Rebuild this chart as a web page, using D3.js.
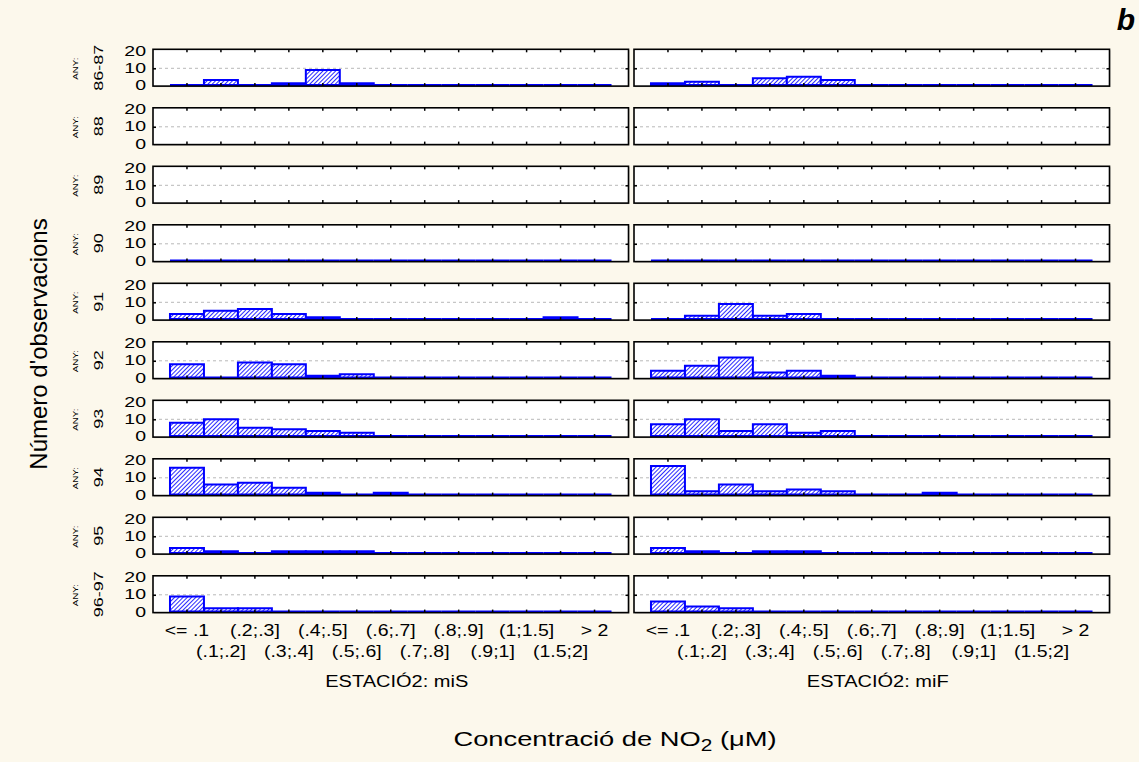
<!DOCTYPE html>
<html>
<head>
<meta charset="utf-8">
<script src="https://cdn.jsdelivr.net/npm/d3@7"></script>
<style>
  html, body { margin: 0; padding: 0; background: #fcf8ec; }
  svg { display: block; font-family: "Liberation Sans", Arial, sans-serif; }
</style>
</head>
<body>
<div id="chart"></div>
<script>
// histogram bins (NO2 concentration classes)
const bins = ['<= .1', '(.1;.2]', '(.2;.3]', '(.3;.4]', '(.4;.5]', '(.5;.6]', '(.6;.7]',
  '(.7;.8]', '(.8;.9]', '(.9;1]', '(1;1.5]', '(1.5;2]', '> 2'];

const years = ['86-87', '88', '89', '90', '91', '92', '93', '94', '95', '96-97'];
const stations = ['miS', 'miF'];
const yTicks = [0, 10, 20];

// counts per year (null = no samples that year)
const countsMiS = [
  [0, 3, 0, 1, 9, 1, 0, 0, 0, 0, 0, 0, 0],
  null,
  null,
  [0, 0, 0, 0, 0, 0, 0, 0, 0, 0, 0, 0, 0],
  [3, 5, 6, 3, 1, 0, 0, 0, 0, 0, 0, 1, 0],
  [8, 0, 9, 8, 1, 2, 0, 0, 0, 0, 0, 0, 0],
  [8, 10, 5, 4, 3, 2, 0, 0, 0, 0, 0, 0, 0],
  [16, 6, 7, 4, 1, 0, 1, 0, 0, 0, 0, 0, 0],
  [3, 1, 0, 1, 1, 1, 0, 0, 0, 0, 0, 0, 0],
  [9, 2, 2, 0, 0, 0, 0, 0, 0, 0, 0, 0, 0],
];

const countsMiF = [
  [1, 2, 0, 4, 5, 3, 0, 0, 0, 0, 0, 0, 0],
  null,
  null,
  [0, 0, 0, 0, 0, 0, 0, 0, 0, 0, 0, 0, 0],
  [0, 2, 9, 2, 3, 0, 0, 0, 0, 0, 0, 0, 0],
  [4, 7, 12, 3, 4, 1, 0, 0, 0, 0, 0, 0, 0],
  [7, 10, 3, 7, 2, 3, 0, 0, 0, 0, 0, 0, 0],
  [17, 2, 6, 2, 3, 2, 0, 0, 1, 0, 0, 0, 0],
  [3, 1, 0, 1, 1, 0, 0, 0, 0, 0, 0, 0, 0],
  [6, 3, 2, 0, 0, 0, 0, 0, 0, 0, 0, 0, 0],
];

const counts = [countsMiS, countsMiF];

const width = 1139;
const height = 762;
const panelW = 475.5;
const rowH = 36.8;
const colLeft = [153, 634];

const svg = d3.select('#chart')
  .append('svg')
  .attr('width', width)
  .attr('height', height);

svg.append('rect').attr('width', width).attr('height', height).attr('fill', '#fcf8ec');

const pat = svg.append('defs').append('pattern')
  .attr('id', 'hatch')
  .attr('width', 3).attr('height', 3)
  .attr('patternUnits', 'userSpaceOnUse')
  .attr('patternTransform', 'rotate(45)');
pat.append('rect').attr('width', 3).attr('height', 3).attr('fill', '#ffffff');
pat.append('line').attr('x1', 0.5).attr('y1', 0).attr('x2', 0.5).attr('y2', 3)
  .attr('stroke', '#2a2aff').attr('stroke-width', 1);

const rowTop = d3.scaleLinear().domain([0, years.length - 1]).range([49.3, 49.3 + 9 * 58.5]);

const x = d3.scaleBand().domain(bins).range([0, panelW]).paddingInner(0).paddingOuter(0.5);
const y = d3.scaleLinear().domain([0, 20]).range([rowH - 1.1, rowH - 1.1 - 33.4]);
const yLab = d3.scaleLinear().domain([0, 20]).range([rowH - 1.2, 0.8]);

stations.forEach((st, s) => {
  years.forEach((yr, r) => {
    const g = svg.append('g')
      .attr('transform', `translate(${colLeft[s]},${rowTop(r)})`);

    g.append('rect')
      .attr('x', 1).attr('y', 1)
      .attr('width', panelW).attr('height', rowH)
      .attr('fill', '#c8c4bc');
    g.append('rect')
      .attr('width', panelW).attr('height', rowH)
      .attr('fill', '#ffffff');

    g.append('line')
      .attr('x1', 0).attr('x2', panelW)
      .attr('y1', y(10)).attr('y2', y(10))
      .attr('stroke', '#b8b8b8')
      .attr('stroke-dasharray', '3,3');

    const data = counts[s][r];
    if (data) {
      g.append('g')
        .selectAll('path')
        .data(bins.map((b, i) => ({ bin: b, n: data[i] })))
        .join('path')
        .attr('d', (d) => {
          const x0 = x(d.bin), x1 = x(d.bin) + x.bandwidth();
          return `M${x0},${y(0)}V${y(d.n)}H${x1}V${y(0)}Z`;
        })
        .attr('fill', 'url(#hatch)')
        .attr('stroke', '#0000ff')
        .attr('stroke-width', 2);
    }

    // inward ticks
    const tickTop = d3.axisTop(x).tickSize(-3).tickFormat('');
    const tickBot = d3.axisBottom(x).tickSize(-3).tickFormat('');
    const tickL = d3.axisLeft(y).tickValues([10]).tickSize(-3).tickFormat('');
    const tickR = d3.axisRight(y).tickValues([10]).tickSize(-3).tickFormat('');
    [[tickTop, 0, 0], [tickBot, 0, rowH], [tickL, 0, 0], [tickR, panelW, 0]].forEach(([ax, tx, ty]) => {
      const a = g.append('g').attr('transform', `translate(${tx},${ty})`).call(ax);
      a.select('.domain').remove();
      a.selectAll('line').attr('stroke', '#000').attr('stroke-width', 1.5);
    });

    g.append('rect')
      .attr('width', panelW).attr('height', rowH)
      .attr('fill', 'none')
      .attr('stroke', '#000')
      .attr('stroke-width', 1.6);

    if (s === 0) {
      g.selectAll('text.ytick')
        .data(yTicks)
        .join('text')
        .attr('class', 'ytick')
        .attr('transform', (d) => `translate(-7,${yLab(d)}) scale(1.3,1)`)
        .attr('dy', '0.36em')
        .attr('text-anchor', 'end')
        .style('font-size', '15px')
        .text((d) => d);

      const cy = rowTop(r) + rowH / 2;
      svg.append('text')
        .attr('transform', `translate(98,${cy}) rotate(-90) scale(1,0.73)`)
        .attr('text-anchor', 'middle')
        .attr('dy', '0.36em')
        .style('font-size', '18px')
        .text(yr);
      svg.append('text')
        .attr('transform', `translate(75.8,${cy + 1}) rotate(-90) scale(1,0.72)`)
        .attr('text-anchor', 'middle')
        .attr('dy', '0.36em')
        .style('font-size', '9.7px')
        .text('ANY:');
    }
  });

  // category labels (staggered)
  const left = colLeft[s];
  svg.append('g')
    .selectAll('text')
    .data(bins)
    .join('text')
    .attr('transform', (d, i) => `translate(${left + x(d) + x.bandwidth() / 2},${i % 2 === 0 ? 635.5 : 657}) scale(1.22,1)`)
    .attr('text-anchor', 'middle')
    .style('font-size', '16px')
    .text((d) => d);

  svg.append('text')
    .attr('transform', `translate(${left + panelW / 2 + 6},687) scale(1.25,1)`)
    .attr('text-anchor', 'middle')
    .style('font-size', '16px')
    .text('ESTACIÓ2: ' + st);
});

// axis titles
const xt = svg.append('text')
  .attr('transform', 'translate(615,746) scale(1.3,1)')
  .attr('text-anchor', 'middle')
  .style('font-size', '21px');
xt.append('tspan').text('Concentració de NO');
xt.append('tspan').attr('dy', 5).style('font-size', '16px').text('2');
xt.append('tspan').attr('dy', -5).text(' (μM)');

svg.append('text')
  .attr('transform', 'translate(38,344) rotate(-90)')
  .attr('text-anchor', 'middle')
  .attr('dy', '0.36em')
  .style('font-size', '24px')
  .text("Número d'observacions");

svg.append('text')
  .attr('x', 1135).attr('y', 30)
  .attr('text-anchor', 'end')
  .style('font-size', '30px')
  .style('font-weight', 'bold')
  .style('font-style', 'italic')
  .text('b');
</script>
</body>
</html>
